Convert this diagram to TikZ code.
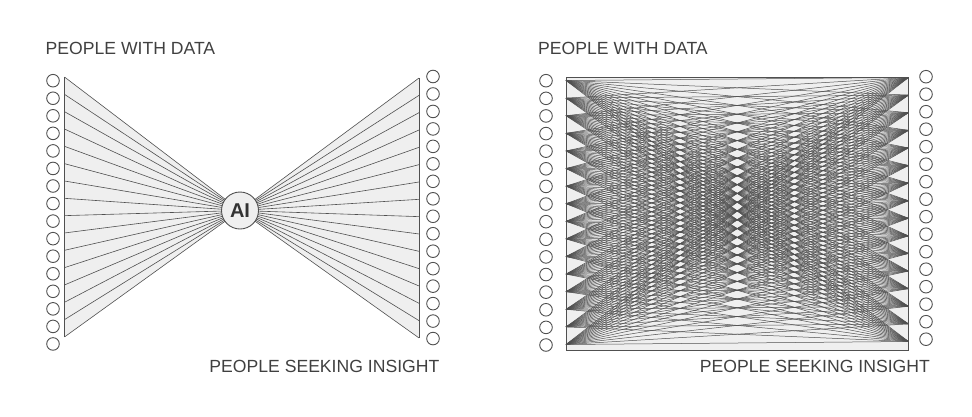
\documentclass[tikz,border=0pt]{standalone}
\usepackage{fontspec}
\setmainfont{Liberation Sans}
\usetikzlibrary{positioning}
\definecolor{ink}{HTML}{505050}
\definecolor{pale}{HTML}{EFEFEF}
\definecolor{txt}{HTML}{404040}

\begin{document}
\begin{tikzpicture}[
            x=1pt, y=-1pt,
            person/.style={draw=ink, circle, fill=white, minimum size=12.6pt, inner sep=0pt, line width=0.9pt},
            heading/.style={text=txt, font=\fontsize{17.6}{20}\selectfont, inner sep=0pt},
            link/.style={draw=ink, line width=0.6pt}
        ]
            \useasboundingbox (0,0) rectangle (972,416);
            % left: everyone goes through the AI
            \node[heading, anchor=base west] (data1) at (45.5,54) {PEOPLE WITH DATA};
            \node[heading, anchor=base east] (seek1) at (439.5,372) {PEOPLE SEEKING INSIGHT};
            \foreach \i in {0,...,15} {
                \node[person] (a\i) at (53, 80.7+17.55*\i) {};
                \node[person] (b\i) at (433, 76.5+17.47*\i) {};
                \coordinate (ai\i) at (64.5, 77+17.33*\i);
                \coordinate (ao\i) at (419, 78+17.33*\i);
            }
            \coordinate (hub) at (240,210.5);
            \fill[pale] (ai0) -- (hub) -- (ai15) -- cycle;
            \fill[pale] (ao0) -- (hub) -- (ao15) -- cycle;
            \foreach \i in {0,...,15} {
                \draw[link] (ai\i) -- (hub);
                \draw[link] (ao\i) -- (hub);
            }
            \draw[link, line width=0.9pt] (ai0) -- (ai15);
            \draw[link, line width=0.9pt] (ao0) -- (ao15);
            \node[draw=ink, fill=pale, circle, minimum size=37pt, line width=0.9pt, text=txt!80!black,
                font=\bfseries\fontsize{20}{22}\selectfont] (ai) at (hub) {AI};
            % right: everyone with everyone
            \node[heading, anchor=base west] (data2) at (538,54) {PEOPLE WITH DATA};
            \node[heading, anchor=base east] (seek2) at (930,372) {PEOPLE SEEKING INSIGHT};
            \foreach \i in {0,...,15} {
                \node[person] (c\i) at (546, 80.7+17.62*\i) {};
                \node[person] (d\i) at (926, 76.7+17.5*\i) {};
                \coordinate (ci\i) at (566, 80.5+17.6*\i);
                \coordinate (co\i) at (908.5, 77.5+17.6*\i);
            }
            \coordinate (nw) at (566,77.5);
            \coordinate (se) at (908.5,350.5);
            \filldraw[fill=pale, draw=ink, line width=0.9pt] (nw) rectangle (se);
            \foreach \i in {0,...,15}
                \foreach \j in {0,...,15}
                    \draw[link, line width=0.5pt] (ci\i) -- (co\j);
        \end{tikzpicture}
\end{document}
